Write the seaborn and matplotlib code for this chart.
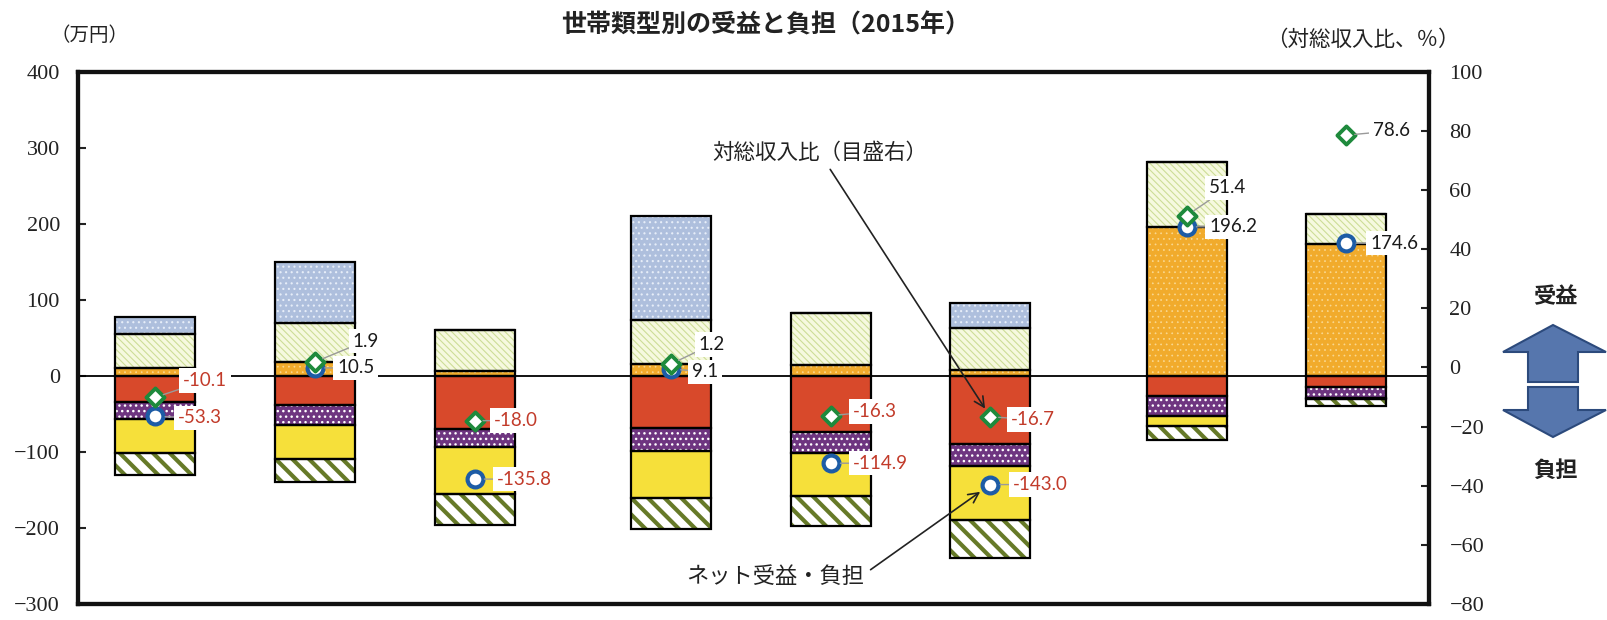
import numpy as np
import matplotlib
matplotlib.use("Agg")
import matplotlib.pyplot as plt
from matplotlib.patches import Polygon
import seaborn as sns

# household types (no tick labels are printed in the chart)
households = ["世帯1", "世帯2", "世帯3", "世帯4", "世帯5", "世帯6", "世帯7", "世帯8"]
groups = [0, 0, 0, 1, 1, 1, 2, 2]

# benefits (万円), stacked upward from 0
pension = [11, 18, 6, 15, 14, 8, 196, 173]
medical = [44, 52, 54, 59, 69, 55, 85, 40]
education = [22, 80, 0, 137, 0, 33, 0, 0]

# burdens (万円), stacked downward from 0
income_tax = [35, 38, 70, 68, 74, 90, 27, 14]
consumption_tax = [22, 26, 24, 31, 28, 28, 26, 15]
social_insurance = [44, 45, 61, 62, 56, 72, 13, 1]
other_burden = [29, 31, 41, 41, 40, 49, 19, 9]

# markers
net_benefit = [-53.3, 10.5, -135.8, 9.1, -114.9, -143.0, 196.2, 174.6]
ratio_income = [-10.1, 1.9, -18.0, 1.2, -16.3, -16.7, 51.4, 78.6]

# label offsets (points) for the marker values
net_offsets = [(16, -1), (16, 0), (16, 0), (15, -2), (16, 0), (16, 0), (16, 0), (17, 0)]
ratio_offsets = [(20, 12), (27, 15), (14, 0), (20, 14), (16, 3), (15, -2), (16, 20), (19, 3)]

left_ticks = list(range(-300, 401, 100))
right_ticks = list(range(-80, 101, 20))

sns.set_style("white")
plt.rcParams['font.family'] = ['Noto Sans CJK JP', 'DejaVu Sans']
serif = ['Liberation Serif', 'DejaVu Serif']

x = np.arange(len(households)) + 0.23 * np.array(groups)
width = 0.5

fig = plt.figure(figsize=(16.07, 6.2), dpi=100)
ax = fig.add_axes([0.0485, 0.026, 0.8405, 0.858])


def seg(vals, bottom, face, hatch=None, hcolor='white', hlw=1.0):
    plt.rcParams['hatch.linewidth'] = hlw
    bars = ax.bar(x, vals, width, bottom=bottom, color=face, edgecolor=hcolor,
                  hatch=hatch, linewidth=0, zorder=2)
    for p in bars:
        if hasattr(p, 'set_hatch_linewidth'):
            p.set_hatch_linewidth(hlw)
    ax.bar(x, vals, width, bottom=bottom, fill=False, edgecolor='black',
           linewidth=1.6, zorder=2.5)


# positive side
b = np.zeros(len(x))
seg(pension, b, '#f1ab2c', '...', '#f9d891', 0.5)
b = b + np.array(pension)
seg(medical, b, '#f6f9df', '\\' * 5, '#cddd97', 0.8)
b = b + np.array(medical)
seg(education, b, '#aebfdd', '...', '#e6edf8', 0.8)

# negative side
b = np.zeros(len(x))
seg(-np.array(income_tax), b, '#d8492b')
b = b - np.array(income_tax)
seg(-np.array(consumption_tax), b, '#6e3580', '...', 'white', 1.0)
b = b - np.array(consumption_tax)
seg(-np.array(social_insurance), b, '#f6e03a')
b = b - np.array(social_insurance)
seg(-np.array(other_burden), b, 'white', '\\\\', '#667a28', 3.0)
plt.rcParams['hatch.linewidth'] = 1.0

ax.axhline(0, color='black', lw=1.3, zorder=3)

sns.scatterplot(x=x, y=net_benefit, ax=ax, marker='o', s=130, color='white',
                edgecolor='#1d5ca6', linewidth=3, zorder=5, legend=False)

red = '#c23b2a'
for xi, v, (dx, dy) in zip(x, net_benefit, net_offsets):
    ax.annotate(f"{v:.1f}", xy=(xi, v), xytext=(dx, dy), textcoords='offset points',
                ha='left', va='center', fontsize=13.5, fontfamily='Lato',
                color=red if v < 0 else '#1a1a1a', zorder=7,
                bbox=dict(boxstyle='square,pad=0.2', fc='white', ec='none'),
                arrowprops=dict(arrowstyle='-', color='#9a9a9a', lw=1,
                                shrinkA=0, shrinkB=7))

ax.set_xlim(-0.485, x[-1] + 0.515)
ax.set_ylim(-300, 400)
ax.set_yticks(left_ticks, labels=[str(t).replace('-', '\u2212') for t in left_ticks])
ax.set_xticks([])

ax2 = ax.twinx()
sns.scatterplot(x=x, y=ratio_income, ax=ax2, marker='D', s=85, color='white',
                edgecolor='#1e8a3c', linewidth=2.8, zorder=5, legend=False)
for xi, v, (dx, dy) in zip(x, ratio_income, ratio_offsets):
    ax2.annotate(f"{v:.1f}", xy=(xi, v), xytext=(dx, dy), textcoords='offset points',
                 ha='left', va='center', fontsize=13.5, fontfamily='Lato',
                 color=red if v < 0 else '#1a1a1a', zorder=7,
                 bbox=dict(boxstyle='square,pad=0.2', fc='white', ec='none'),
                 arrowprops=dict(arrowstyle='-', color='#9a9a9a', lw=1,
                                 shrinkA=0, shrinkB=6))
ax2.set_ylim(-80, 100)
ax2.set_yticks(right_ticks, labels=[str(t).replace('-', '\u2212') for t in right_ticks])
ax2.set_xlim(ax.get_xlim())
ax2.set_ylabel('')

for a in (ax, ax2):
    for s in a.spines.values():
        s.set_linewidth(3)
        s.set_color('#111111')
ax.tick_params(axis='y', direction='in', length=6, width=1.5, pad=13, colors='#222222')
ax2.tick_params(axis='y', direction='in', length=6, width=1.5, pad=15, colors='#222222')
for lbl in ax.get_yticklabels() + ax2.get_yticklabels():
    lbl.set_fontfamily(serif)
    lbl.set_fontsize(16)

# call-out annotations
ax2.annotate("対総収入比（目盛右）", xy=(x[5], ratio_income[5]), xytext=(0.549, 0.848),
             textcoords='axes fraction', ha='center', va='center', fontsize=15.5,
             color='#222222',
             arrowprops=dict(arrowstyle='->', color='#222222', lw=1.2,
                             shrinkA=2, shrinkB=7, mutation_scale=18))
ax.annotate("ネット受益・負担", xy=(x[5], net_benefit[5]), xytext=(0.516, 0.051),
            textcoords='axes fraction', ha='center', va='center', fontsize=16,
            color='#222222',
            arrowprops=dict(arrowstyle='->', color='#222222', lw=1.2,
                            shrinkA=3, shrinkB=9, mutation_scale=18,
                            relpos=(1.0, 0.6)))

fig.text(0.4767, 0.96, "世帯類型別の受益と負担（2015年）", ha='center', va='center',
         fontsize=18, fontweight='bold', color='#222222')
fig.text(0.056, 0.9435, "（万円）", ha='center', va='center', fontsize=14, color='#222222')
fig.text(0.848, 0.935, "（対総収入比、％）", ha='center', va='center', fontsize=15.5,
         color='#222222')
fig.text(0.9677, 0.521, "受益", ha='center', va='center', fontsize=16,
         fontweight='bold', color='#222222')
fig.text(0.9677, 0.242, "負担", ha='center', va='center', fontsize=16,
         fontweight='bold', color='#222222')

# block arrows on the right
W, H = 1607.0, 620.0
up = [(1553, 325), (1606, 352), (1578, 352), (1578, 382), (1528, 382), (1528, 352), (1503, 352)]
down = [(1528, 387), (1578, 387), (1578, 410), (1606, 410), (1553, 437), (1503, 410), (1528, 410)]
for pts in (up, down):
    fig.patches.append(Polygon([(px / W, 1 - py / H) for px, py in pts], closed=True,
                               transform=fig.transFigure, facecolor='#5676ad',
                               edgecolor='#2c4a7c', lw=1.5))

fig.savefig("out.png", dpi=100)
